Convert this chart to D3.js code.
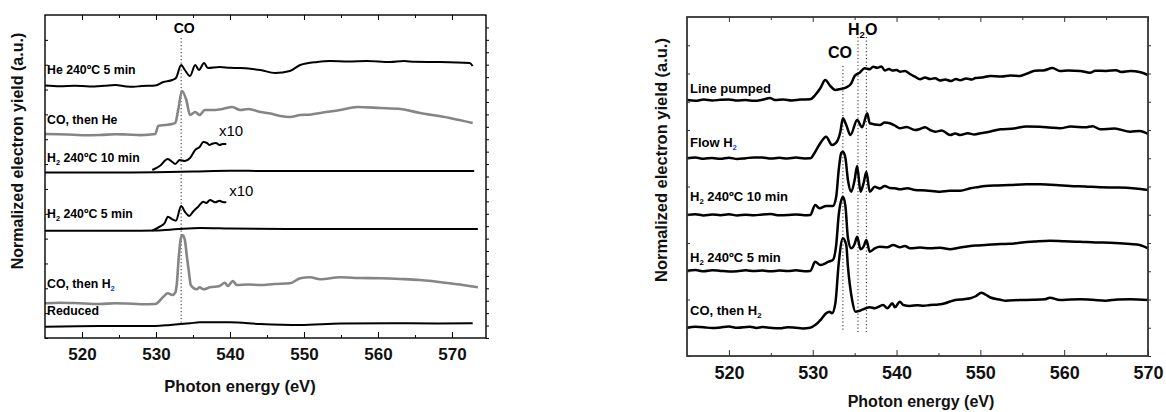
<!DOCTYPE html>
<html>
<head>
<meta charset="utf-8">
<script src="https://cdn.jsdelivr.net/npm/d3@7"></script>
<style>
  body { margin: 0; background: #fff; }
  svg { font-family: "Liberation Sans", Arial, sans-serif; }
</style>
</head>
<body>
<svg id="chart" width="1166" height="412"></svg>
<script>
// ---- data: [photon energy (eV), yield (a.u., offset stacked)] ----

// left panel
var heAnneal5 = [[515,252.5],[517,251.8],[519,252.3],[521,251.5],[523,252.2],[524.5,253],[526,251.6],[527,251.2],[528,252],[529.9,252.5],
  [531,256],[532.2,258],[532.7,260],[533.4,273],[533.9,268],[534.6,262],[535.3,273],[535.8,268],[536.5,275],[537,270],
  [538.6,271],[540,270.2],[541.4,270],[543,269],[544.1,268],[546.1,265],[548.1,267],[549.5,273],[551.8,276],[553.5,277],
  [556,276.6],[558.5,277],[561.6,276],[563.5,277],[565,276.2],[568.4,276],[572.4,275],[572.8,272]];
var coThenHe = [[515,204],[518,203.5],[520,202.8],[522.4,203],[524.5,203.8],[526,203.5],[528,202.9],[529.9,204],[530.3,212],[531.2,213],[532.2,214],[532.6,215],
  [533,228],[533.5,247],[534.1,238],[534.6,223],[535.3,226],[535.9,223],[536.6,228],[538,228],[539,229],[540.3,231],
  [541.4,228],[542.5,229],[544.1,226],[545.5,224.5],[546.8,222],[548.1,221],[549.5,223],[551,223.5],[552.2,225],[554.9,228],[557.2,231],
  [560.3,230],[563,229],[565.7,225],[569.7,220],[572.8,215]];
var h2Anneal10 = [[515,165.5],[525,165.5],[530,165.8],[535,166.5],[540,167.3],[545,167],[550,167],[560,167],[573,167]];
var h2Anneal10x10 = [[529.5,168],[530.5,172],[531.6,179],[532.2,176],[532.6,174],[533.2,178],[533.9,177],[534.6,180],
  [535.3,188],[535.9,191],[536.4,196],[536.9,195],[537.2,193],[537.7,194.5],[538.1,195],[538.6,193],[539,194],[539.5,194]];
var h2Anneal5 = [[515,107.3],[525,107.3],[530,107.5],[533,109],[536,110],[540,109.5],[550,109],[560,109],[573.5,109]];
var h2Anneal5x10 = [[529.5,107.3],[530.5,111.3],[531.2,115.3],[531.6,121.3],[532.2,118.7],[532.7,117.3],[533.4,132],
  [533.9,126.3],[534.5,122],[535,126.3],[535.7,131.3],[536.4,136.3],[536.8,135],[537.3,138],[538,135.7],[538.6,137.3],
  [539,136],[539.5,135.7]];
var coThenH2 = [[515,34.7],[517,35.3],[519,35],[522.4,34],[524.5,34.8],[526,34.5],[528,33.8],[529.9,34],[531,41.3],[531.6,44.7],[532.2,43],[532.6,45.3],
  [532.8,53],[533.1,83],[533.4,101],[533.6,103],[533.9,98],[534.2,80],[534.5,63],[534.7,53],[535.5,48.7],[535.9,50.7],
  [536.4,48.7],[537.3,50.7],[538.6,52],[539.3,55.3],[539.7,52],[540.4,57],[540.9,53],[542.5,53.5],[544.1,53],[546,54],[548.1,54.7],
  [549.5,59.7],[550.8,60.7],[552.2,58.7],[554.9,60.7],[557.5,60],[560.3,59.7],[563,59],[565.7,58],[569.7,54.7],[573.5,50.7]];
var reduced = [[515,11.3],[522.4,12],[529.9,12],[531.9,13],[534.6,14.7],[535.9,15.7],[540,15.7],[544.1,14],[549.5,13],
  [555,14.5],[562,14.7],[568,14.5],[572.8,14.7]];

// right panel
var linePumped = [[515,256],[516,255.3],[517,256.4],[518,255.5],[519,256.2],[520,256.6],[521,255.4],[522,256],[523,255.2],
  [524,256.3],[524.9,258],[525.5,256],[526.5,256.6],[527.5,255.6],[528.5,256.4],[529.7,256.7],[530.3,261],[530.9,267.7],
  [531.5,276],[532.1,270],[532.7,266],[533.3,267],[534,268.7],[534.6,272.7],[535,280],[535.6,283.3],[536.2,287.7],
  [536.8,286.7],[537.2,289.3],[537.7,288.3],[538.2,289.5],[538.6,285.5],[539.1,287],[539.5,285.5],[540,286],[540.4,284.3],
  [541,285],[541.6,282],[542.2,279.3],[542.8,276.7],[543.4,278.5],[544,277],[544.6,277.7],[545.2,275.5],[545.8,276.5],
  [546.5,275],[547.1,277],[547.6,275.8],[548.3,277.5],[549,276.5],[549.4,278],[550.2,278.5],[551.2,280],[552.5,279.5],
  [553.6,280.5],[554.7,280],[555.6,282.5],[556.5,285.3],[557.5,285.5],[558.6,288],[559.5,285],[560.5,285.5],[561.9,285],
  [563.1,283.3],[563.7,285.3],[565,285],[566.2,285.8],[566.8,284],[567.9,285],[569,284],[570,281]];
var flowH2 = [[515,197.7],[516,198.4],[517,197.3],[518,198],[519,197.2],[520,198.3],[521,197],[522,197.8],[523,198.6],
  [524,198.5],[525,197.4],[526,198.2],[527,197.5],[528,198.4],[529,197.6],[529.7,197.7],[530.3,204.3],[530.9,212.7],
  [531.6,219.3],[532.3,211],[532.8,213.3],[533.3,224.3],[533.6,237.7],[534,231],[534.5,221],[535.3,236],[535.9,228.7],
  [536.5,242.7],[536.8,232.7],[538,231],[538.6,233.5],[539.2,232.7],[539.8,230.5],[540.4,227.7],[541.2,229],[542.2,226],
  [542.8,227],[543.4,228.7],[544,226],[544.6,224.3],[545.4,225.5],[546.4,221],[547,222.5],[547.6,221],[548.5,222.8],
  [549.3,221.5],[550,222.7],[551.2,224.5],[552.4,226.7],[554,227.5],[555.5,229.5],[557.1,229.3],[558.3,228.5],
  [559.5,227.7],[560.8,229.5],[562.5,228.7],[563.4,229.8],[564.3,226.7],[566,227.5],[567.9,224.3],[569,225],[570,222]];
var h2Anneal10R = [[515,141],[516,141.8],[517,140.6],[518,141.5],[519,140.8],[520,141.7],[521,140.5],[522,141.3],
  [523,140.7],[524,141.5],[525,141.9],[526,140.8],[527,141],[528,141.6],[529,140.7],[529.7,141],[530.3,151],[530.8,147.7],
  [531.6,150],[532.4,150],[532.8,159.3],[533.1,186],[533.4,203],[533.6,204.3],[533.9,198],[534.2,176],[534.6,164.3],
  [535,176],[535.3,190],[535.7,164.3],[536.1,174],[536.4,184.3],[536.8,164.3],[537.4,169.3],[538,167.5],[538.6,170],
  [539.2,168],[539.8,167.7],[540.4,166.7],[541.3,167.8],[542.2,166],[543.5,165.5],[544.5,164.8],[545.2,164.3],
  [546.3,165.2],[547.6,165.3],[548.8,167.7],[549.6,168.8],[550.6,170],[552,170.6],[553.5,171],[555.5,171.8],
  [557.1,171.7],[559,171],[560.7,170],[562.5,169.5],[564.3,168.7],[566.5,168.5],[568.5,167.5],[570,166]];
var h2Anneal5R = [[515,85.3],[516,85.9],[517,84.8],[518,85.8],[519,85.1],[520,84.6],[521,84.8],[522,85.7],[523,85],
  [524,85.5],[525,84.7],[526,85.4],[527,85],[528,85.7],[529,84.8],[529.7,85],[530.3,94.3],[530.9,91],[531.9,94.3],
  [532.4,96],[532.8,111],[533.1,141],[533.5,158],[533.6,159.3],[533.9,150],[534.2,118],[534.6,107.7],[535,112],
  [535.3,119.3],[535.7,106.7],[536.1,110],[536.4,116],[536.8,104.3],[537.4,107.7],[538,109.3],[538.9,108.7],
  [539.6,111],[540.4,108.7],[541,110],[541.6,107.7],[542.8,108.5],[544,107.7],[545.2,108.3],[546.4,106.7],[547.3,108],
  [548.2,109.3],[549.4,110.5],[550.6,111],[552.4,112],[553.5,112.2],[554.7,113.3],[556.5,114.5],[558.3,115.3],
  [560,114.8],[561.9,114.3],[563.7,113.5],[565.5,113.3],[567.9,112],[569,111],[570,107.7]];
var coThenH2R = [[515,28.3],[516,29.2],[517,28.8],[518,27.9],[519,28.6],[520,29.4],[521,28.3],[522.5,29.3],[523.3,28.1],
  [524,29],[525,28.2],[526.1,27.7],[527,28.8],[528,28.2],[528.8,27.6],[529.7,28.2],[530.3,31],[531,36.7],[531.6,42.7],
  [532,44.3],[532.3,42.7],[532.7,52.7],[533.1,92.7],[533.6,117.7],[534,111],[534.2,89.3],[534.7,56],[535.1,44.3],
  [535.6,45.3],[536.8,48.7],[537.4,47.7],[538.4,51],[538.9,47.7],[539.5,52.7],[539.8,48.7],[540.4,54.3],[540.8,51],
  [541.6,50],[542.5,50.8],[543.2,50.2],[544,51],[545,51.5],[545.8,52.7],[546.4,54.5],[547,56],[548,56.8],[548.8,57.7],
  [549.5,60],[550.1,63.3],[550.6,61.5],[551.2,58.5],[552.4,56.3],[553,55.3],[554.7,56],[556.2,56.2],[557.7,56.7],
  [558.3,58.3],[559.5,56],[560.8,56.5],[561.9,56.7],[563.4,56.2],[564.9,55.3],[566.4,56.5],[567.9,56.7],[570,56]];

var leftLabels = ["He 240ºC 5 min", "CO, then He", "H_2 240ºC 10 min", "H_2 240ºC 5 min", "CO, then H_2", "Reduced"];
var rightLabels = ["Line pumped", "Flow H_2", "H_2 240ºC 10 min", "H_2 240ºC 5 min", "CO, then H_2"];
var xTickLabels = [520, 530, 540, 550, 560, 570];
var xMinorTicks = [525, 535, 545, 555, 565];
var coEdgeLeft = 533.4;            // CO resonance marker
var peakMarksRight = [533.6, 535.4, 536.4]; // CO, H2O, H2O

var svg = d3.select("#chart");

function addLabel(g, str, x0, y0, size, blueSub) {
  var t = g.append("text").attr("x", x0).attr("y", y0)
      .attr("font-size", size).attr("font-weight", "bold");
  var shifted = false;
  str.split(/(_2)/).forEach(function (part) {
    if (!part) return;
    if (part === "_2") {
      t.append("tspan").attr("dy", 3).attr("font-size", size * 0.6)
          .attr("fill", blueSub ? "#2233ee" : "#000").text("2");
      shifted = true;
    } else {
      t.append("tspan").attr("dy", shifted ? -3 : 0).text(part);
      shifted = false;
    }
  });
  return t;
}

function panel(p) {
  var x = d3.scaleLinear().domain(p.xDomain).range(p.xRange);
  var y = d3.scaleLinear().domain(p.yDomain).range(p.yRange);
  var g = svg.append("g");
  var line = d3.line()
      .x(function (d) { return x(d[0]); })
      .y(function (d) { return y(d[1]); })
      .curve(d3.curveMonotoneX);

  // dotted resonance markers
  p.marks.forEach(function (m) {
    g.append("line")
        .attr("x1", x(m.e)).attr("x2", x(m.e))
        .attr("y1", m.top).attr("y2", m.bottom)
        .attr("stroke", "#222").attr("stroke-width", 1)
        .attr("stroke-dasharray", "1.2,2.3");
  });

  p.series.forEach(function (s) {
    g.append("path").datum(s.data)
        .attr("fill", "none")
        .attr("stroke", s.color)
        .attr("stroke-width", s.width)
        .attr("stroke-linejoin", "round")
        .attr("d", line);
  });

  // axes: inward ticks on bottom/top/left, short outward on right
  var bottom = g.append("g").attr("transform", "translate(0," + p.yRange[0] + ")");
  bottom.call(d3.axisBottom(x).tickValues(xTickLabels).tickSize(-6).tickPadding(10).tickFormat(d3.format("d")));
  bottom.call(function (a) { a.select(".domain").remove(); });
  bottom.selectAll("text").attr("font-size", p.tickFont).attr("font-weight", "bold")
      .attr("font-family", "Liberation Sans, Arial, sans-serif").attr("fill", "#111");
  var bminor = g.append("g").attr("transform", "translate(0," + p.yRange[0] + ")")
      .call(d3.axisBottom(x).tickValues(xMinorTicks).tickSize(-3).tickFormat(""));
  bminor.select(".domain").remove();

  var top = g.append("g").attr("transform", "translate(0," + p.yRange[1] + ")")
      .call(d3.axisTop(x).tickValues(xTickLabels).tickSize(-5).tickFormat(""));
  top.select(".domain").remove();
  var tminor = g.append("g").attr("transform", "translate(0," + p.yRange[1] + ")")
      .call(d3.axisTop(x).tickValues(xMinorTicks).tickSize(-3).tickFormat(""));
  tminor.select(".domain").remove();

  var left = g.append("g").attr("transform", "translate(" + p.xRange[0] + ",0)")
      .call(d3.axisLeft(y).tickValues(d3.range(0, p.yDomain[1], p.yStepLeft)).tickSize(-3).tickFormat(""));
  left.select(".domain").remove();
  var right = g.append("g").attr("transform", "translate(" + p.xRange[1] + ",0)")
      .call(d3.axisRight(y).tickValues(d3.range(0, p.yDomain[1], p.yStepRight)).tickSize(3).tickFormat(""));
  right.select(".domain").remove();
  g.selectAll(".tick line").attr("stroke", p.frameColor);

  g.append("rect")
      .attr("x", p.xRange[0]).attr("y", p.yRange[1])
      .attr("width", p.xRange[1] - p.xRange[0]).attr("height", p.yRange[0] - p.yRange[1])
      .attr("fill", "none").attr("stroke", p.frameColor).attr("stroke-width", p.frameWidth);

  // curve labels, placed above each trace's start
  p.labels.forEach(function (lab, i) {
    var s = p.series[p.labelSeries[i]];
    addLabel(g, lab, p.labelX, y(s.data[0][1]) + p.labelDy[i], p.labelFont, p.blueSubs.indexOf(i) >= 0);
  });

  g.append("text")
      .attr("x", p.xTitle[0]).attr("y", p.xTitle[1])
      .attr("text-anchor", "middle").attr("font-weight", "bold")
      .attr("font-size", p.titleFont).attr("fill", "#111")
      .text("Photon energy (eV)");
  g.append("text")
      .attr("transform", "translate(" + p.yTitle[0] + "," + p.yTitle[1] + ") rotate(-90)")
      .attr("text-anchor", "middle").attr("font-weight", "bold")
      .attr("font-size", p.yTitleFont).attr("fill", "#111")
      .text("Normalized electron yield (a.u.)");

  return { g: g, x: x, y: y };
}

var black = "#000", grey = "#858585";

var L = panel({
  xDomain: [515, 574.6], xRange: [45, 486],
  yDomain: [0, 323], yRange: [338, 15],
  yStepLeft: 323 / 13, yStepRight: 323 / 26,
  frameColor: "#000", frameWidth: 1.4,
  tickFont: 17, titleFont: 16.5, yTitleFont: 16,
  xTitle: [240, 392], yTitle: [23, 151],
  series: [
    { data: heAnneal5, color: black, width: 2 },
    { data: coThenHe, color: grey, width: 2.6 },
    { data: h2Anneal10, color: black, width: 2 },
    { data: h2Anneal5, color: black, width: 2 },
    { data: coThenH2, color: grey, width: 2.6 },
    { data: reduced, color: black, width: 2 },
    { data: h2Anneal10x10, color: black, width: 2 },
    { data: h2Anneal5x10, color: black, width: 2 }
  ],
  labels: leftLabels, labelSeries: [0, 1, 2, 3, 4, 5],
  labelDy: [-12, -10, -10.5, -12.7, -15.5, -11.5],
  labelX: 47, labelFont: 12.3, blueSubs: [4],
  marks: [{ e: coEdgeLeft, top: 38, bottom: 323 }]
});

L.g.append("text").attr("x", L.x(coEdgeLeft) + 3).attr("y", 33)
    .attr("text-anchor", "middle").attr("font-weight", "bold").attr("font-size", 14).text("CO");
L.g.append("text").attr("x", L.x(538.5)).attr("y", 136).attr("font-size", 15).text("x10");
L.g.append("text").attr("x", L.x(539.9)).attr("y", 196).attr("font-size", 15).text("x10");

var R = panel({
  xDomain: [515, 570], xRange: [687, 1148],
  yDomain: [0, 339], yRange: [356, 17],
  yStepLeft: 339 / 12, yStepRight: 339 / 12,
  frameColor: "#333", frameWidth: 1.8,
  tickFont: 18, titleFont: 16, yTitleFont: 16.5,
  xTitle: [921, 407], yTitle: [667, 160],
  series: [
    { data: linePumped, color: black, width: 2.5 },
    { data: flowH2, color: black, width: 2.5 },
    { data: h2Anneal10R, color: black, width: 2.5 },
    { data: h2Anneal5R, color: black, width: 2.5 },
    { data: coThenH2R, color: black, width: 2.5 }
  ],
  labels: rightLabels, labelSeries: [0, 1, 2, 3, 4],
  labelDy: [-7, -11, -14.3, -9, -12.7],
  labelX: 690, labelFont: 13, blueSubs: [1],
  marks: [{ e: peakMarksRight[0], top: 66, bottom: 332 },
          { e: peakMarksRight[1], top: 37, bottom: 332 },
          { e: peakMarksRight[2], top: 37, bottom: 332 }]
});

R.g.append("text").attr("x", 840).attr("y", 58)
    .attr("text-anchor", "middle").attr("font-weight", "bold").attr("font-size", 16).text("CO");
addLabel(R.g, "H_2O", 848, 35, 16, false);
</script>
</body>
</html>
